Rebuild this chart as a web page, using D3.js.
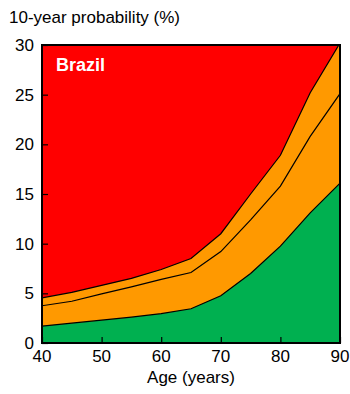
<!DOCTYPE html>
<html>
<head>
<meta charset="utf-8">
<script src="https://cdn.jsdelivr.net/npm/d3@7"></script>
<style>
  html, body { margin: 0; padding: 0; background: #fff; }
  svg { display: block; font-family: "Liberation Sans", Arial, sans-serif; }
</style>
</head>
<body>
<svg id="chart" width="350" height="394"></svg>
<script>
// Ages (years) at which the 10-year probabilities are given
const ages = [40, 45, 50, 55, 60, 65, 70, 75, 80, 85, 90];
// Cumulative boundaries (%) between the risk bands
const lowerBound = [1.7, 2.0, 2.3, 2.6, 2.95, 3.45, 4.75, 7.0, 9.75, 13.1, 16.1];
const middleBound = [3.75, 4.2, 4.95, 5.65, 6.4, 7.1, 9.2, 12.4, 15.8, 20.8, 25.1];
const upperBound = [4.55, 5.1, 5.8, 6.5, 7.4, 8.5, 11.0, 15.0, 18.9, 25.2, 30.2];
const xTicks = [40, 50, 60, 70, 80, 90];
const yTicks = [0, 5, 10, 15, 20, 25, 30];
const country = "Brazil";

const svg = d3.select("#chart");
const m = { left: 42, right: 340, top: 45, bottom: 343 };

const x = d3.scaleLinear().domain([40, 90]).range([m.left, m.right]);
const y = d3.scaleLinear().domain([0, 30]).range([m.bottom, m.top]);

svg.append("defs").append("clipPath").attr("id", "plotClip")
  .append("rect")
  .attr("x", m.left).attr("y", m.top)
  .attr("width", m.right - m.left).attr("height", m.bottom - m.top);

const plot = svg.append("g").attr("clip-path", "url(#plotClip)");

const rows = ages.map((a, i) => ({ age: a, lo: lowerBound[i], mid: middleBound[i], up: upperBound[i] }));

// Red background band (top of the range)
plot.append("rect")
  .attr("x", m.left).attr("y", m.top)
  .attr("width", m.right - m.left).attr("height", m.bottom - m.top)
  .attr("fill", "#ff0000");

const area = (y0f, y1f) => d3.area().x(d => x(d.age)).y0(y0f).y1(y1f);

// Orange band between the green band and the red band
plot.append("path").datum(rows)
  .attr("d", area(d => y(0), d => y(d.up)))
  .attr("fill", "#ff9900");

// Green band at the bottom
plot.append("path").datum(rows)
  .attr("d", area(d => y(0), d => y(d.lo)))
  .attr("fill", "#00b050");

// Boundary lines
const line = f => d3.line().x(d => x(d.age)).y(f);
[d => y(d.lo), d => y(d.mid), d => y(d.up)].forEach(f => {
  plot.append("path").datum(rows)
    .attr("d", line(f))
    .attr("fill", "none")
    .attr("stroke", "#000")
    .attr("stroke-width", 1.2);
});

// Axes with inward ticks
const xAxis = svg.append("g").attr("transform", `translate(0,${m.bottom})`)
  .call(d3.axisTop(x).tickValues(xTicks).tickSize(6).tickFormat(""));
xAxis.select(".domain").remove();
xAxis.selectAll("line").attr("stroke", "#000").attr("stroke-width", 1.2);

const yAxis = svg.append("g").attr("transform", `translate(${m.left},0)`)
  .call(d3.axisRight(y).tickValues(yTicks).tickSize(6).tickFormat(""));
yAxis.select(".domain").remove();
yAxis.selectAll("line").attr("stroke", "#000").attr("stroke-width", 1.2);

// Frame
svg.append("rect")
  .attr("x", m.left).attr("y", m.top)
  .attr("width", m.right - m.left).attr("height", m.bottom - m.top)
  .attr("fill", "none").attr("stroke", "#000").attr("stroke-width", 2);

// Tick labels
svg.append("g").selectAll("text").data(xTicks).join("text")
  .attr("x", d => x(d)).attr("y", 362)
  .attr("text-anchor", "middle")
  .attr("font-size", 17).attr("fill", "#000")
  .text(d => d);

svg.append("g").selectAll("text").data(yTicks).join("text")
  .attr("x", 34).attr("y", d => y(d) + 6)
  .attr("text-anchor", "end")
  .attr("font-size", 17).attr("fill", "#000")
  .text(d => d);

// Titles
svg.append("text")
  .attr("x", 9).attr("y", 23)
  .attr("font-size", 17).attr("fill", "#000")
  .text("10-year probability (%)");

svg.append("text")
  .attr("x", (m.left + m.right) / 2).attr("y", 383)
  .attr("text-anchor", "middle")
  .attr("font-size", 17).attr("fill", "#000")
  .text("Age (years)");

svg.append("text")
  .attr("x", 56).attr("y", 71)
  .attr("font-size", 18).attr("font-weight", "bold").attr("fill", "#fff")
  .text(country);
</script>
</body>
</html>
